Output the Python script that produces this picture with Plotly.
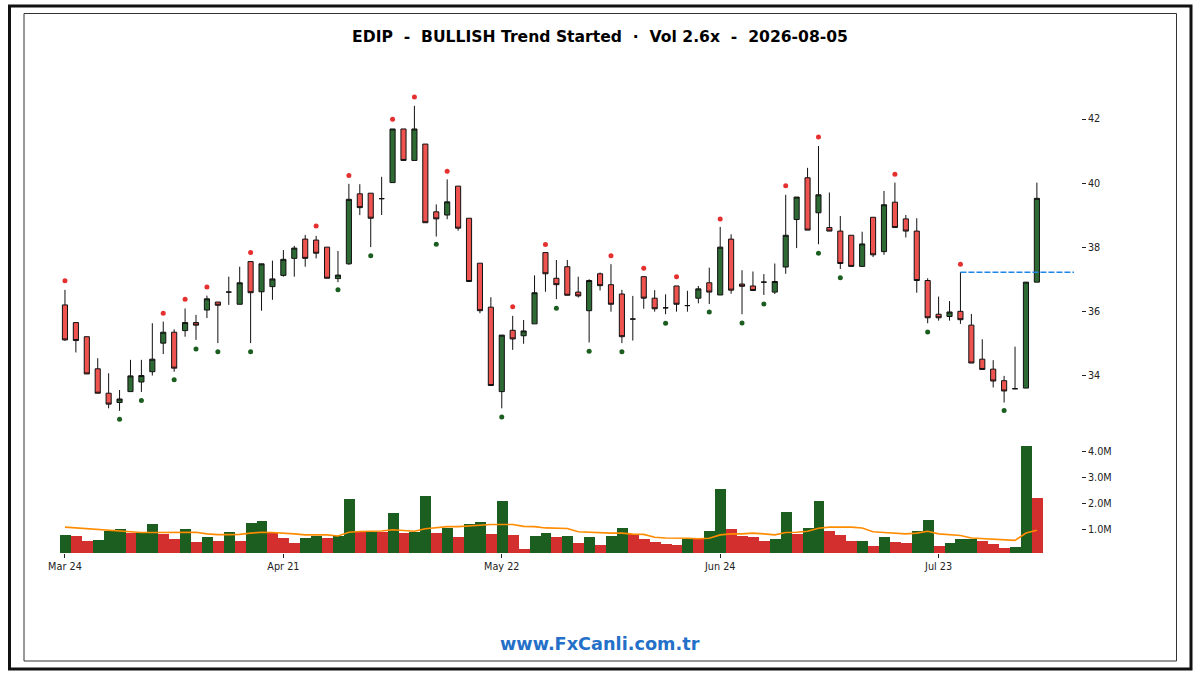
import plotly.graph_objects as go
from plotly.subplots import make_subplots

FRAME_COLOR = "#111111"
GREEN_BODY = "#2e6b34"
RED_BODY = "#ef5350"
GREEN_VOL = "#1b5e20"
RED_VOL = "#d32f2f"

tick_index = [0, 20, 40, 60, 80]
tick_labels = ["Mar 24", "Apr 21", "May 22", "Jun 24", "Jul 23"]
price_ticks = [34, 36, 38, 40, 42]
vol_ticks = [1, 2, 3, 4]
vol_tick_labels = ["1.0M", "2.0M", "3.0M", "4.0M"]

opens = [36.21, 35.66, 35.22, 34.22, 33.46, 33.17, 33.51, 33.81, 34.13, 35.02,
         35.36, 35.41, 35.66, 36.05, 36.30, 36.61, 36.23, 37.56, 36.62, 36.78,
         37.13, 37.66, 38.26, 38.23, 38.01, 37.03, 37.49, 39.67, 39.69, 39.52,
         40.02, 41.69, 40.71, 41.22, 39.11, 39.01, 39.91, 38.91, 37.51, 36.14,
         33.51, 35.42, 35.25, 35.62, 37.84, 37.04, 37.40, 36.61, 36.03, 37.18,
         36.84, 36.55, 35.77, 37.09, 36.42, 36.12, 36.80, 36.19, 36.42, 36.90,
         36.52, 38.26, 36.86, 36.80, 36.92, 36.61, 37.39, 38.87, 40.17, 39.08,
         38.62, 38.51, 38.38, 37.41, 38.94, 37.87, 39.41, 38.89, 38.51, 36.97,
         35.92, 35.85, 36.01, 35.58, 34.52, 34.21, 33.85, 33.60, 33.62, 36.92]
closes = [35.12, 35.10, 34.06, 33.46, 33.12, 33.28, 34.00, 34.01, 34.52, 35.36,
          34.24, 35.66, 35.58, 36.40, 36.20, 36.61, 36.90, 36.59, 37.49, 37.02,
          37.63, 37.98, 37.66, 37.82, 37.04, 37.14, 39.50, 39.24, 38.91, 39.52,
          41.69, 40.71, 41.69, 38.77, 38.89, 39.42, 38.60, 36.94, 36.03, 33.70,
          35.27, 35.15, 35.40, 36.59, 37.18, 36.84, 36.51, 36.49, 36.97, 36.81,
          36.23, 35.22, 35.77, 36.42, 36.09, 36.12, 36.23, 36.19, 36.71, 36.61,
          38.01, 36.67, 36.79, 36.66, 36.92, 36.94, 38.38, 39.57, 38.54, 39.64,
          38.51, 37.50, 37.41, 38.11, 37.77, 39.33, 38.62, 38.51, 36.97, 35.81,
          35.81, 35.99, 35.75, 34.40, 34.20, 33.84, 33.53, 33.60, 36.92, 39.53]
highs = [36.68, 35.66, 35.22, 34.55, 34.08, 33.56, 34.50, 34.50, 35.64, 35.69,
         35.45, 36.10, 35.90, 36.50, 36.30, 37.09, 37.40, 37.56, 37.49, 37.59,
         37.92, 38.05, 38.39, 38.36, 38.01, 37.89, 39.98, 39.97, 39.69, 40.20,
         41.69, 41.69, 42.41, 41.22, 39.34, 40.12, 39.91, 38.91, 37.51, 36.45,
         35.27, 35.87, 35.74, 37.13, 37.84, 37.61, 37.61, 37.09, 37.01, 37.22,
         37.48, 36.68, 36.49, 37.09, 36.67, 36.54, 36.80, 36.65, 36.80, 37.37,
         38.64, 38.41, 37.29, 37.25, 37.17, 37.50, 39.64, 39.57, 40.48, 41.16,
         39.71, 38.98, 38.38, 38.49, 38.94, 39.76, 40.02, 39.01, 38.91, 37.04,
         36.47, 36.33, 37.23, 35.93, 35.14, 34.49, 34.00, 34.91, 36.92, 40.02]
lows = [35.09, 34.73, 34.06, 33.46, 32.99, 32.91, 33.51, 33.50, 34.01, 34.68,
        34.13, 35.22, 35.12, 35.80, 35.02, 36.21, 36.23, 35.02, 36.03, 36.37,
        37.09, 37.09, 37.40, 37.66, 37.04, 36.92, 37.46, 39.01, 38.01, 39.01,
        40.02, 40.71, 40.71, 38.77, 38.34, 38.88, 38.52, 36.94, 35.95, 33.70,
        32.99, 34.81, 35.00, 35.62, 36.62, 36.39, 36.51, 36.44, 35.04, 36.66,
        36.00, 35.02, 35.10, 36.09, 36.00, 35.92, 36.00, 36.00, 36.26, 36.24,
        36.52, 36.56, 35.92, 36.66, 36.52, 36.55, 37.18, 37.98, 38.54, 38.10,
        38.51, 37.33, 37.41, 37.41, 37.70, 37.77, 38.62, 38.31, 36.59, 35.64,
        35.72, 35.72, 35.62, 34.40, 34.20, 33.64, 33.17, 33.60, 33.62, 36.92]

# volume in millions, colour does not always follow the candle in the source
volume = [0.78, 0.74, 0.54, 0.59, 0.93, 1.00, 0.87, 0.85, 1.19, 0.81,
          0.64, 1.00, 0.51, 0.68, 0.54, 0.88, 0.54, 1.25, 1.33, 0.85,
          0.65, 0.46, 0.65, 0.74, 0.66, 0.74, 2.17, 0.88, 0.88, 0.90,
          1.62, 0.85, 0.91, 2.27, 0.85, 1.04, 0.69, 1.22, 1.27, 0.81,
          2.08, 0.78, 0.23, 0.72, 0.87, 0.70, 0.73, 0.46, 0.70, 0.40,
          0.75, 1.04, 0.81, 0.62, 0.51, 0.42, 0.40, 0.63, 0.63, 0.92,
          2.54, 1.00, 0.74, 0.68, 0.56, 0.61, 1.65, 0.81, 1.06, 2.08,
          0.93, 0.78, 0.56, 0.56, 0.37, 0.70, 0.50, 0.45, 0.93, 1.37,
          0.37, 0.46, 0.61, 0.64, 0.54, 0.42, 0.28, 0.32, 4.20, 2.19]
volume_up = [1, 0, 0, 1, 1, 1, 0, 1, 1, 0,
             0, 1, 0, 1, 0, 1, 0, 1, 1, 0,
             0, 0, 1, 1, 0, 1, 1, 0, 1, 0,
             1, 0, 1, 1, 0, 1, 0, 1, 1, 0,
             1, 0, 0, 1, 1, 0, 1, 0, 1, 0,
             1, 1, 0, 0, 0, 0, 0, 1, 0, 1,
             1, 0, 0, 0, 0, 1, 1, 0, 1, 1,
             0, 0, 0, 1, 0, 1, 0, 0, 1, 1,
             0, 1, 1, 1, 0, 0, 0, 1, 1, 0]
volume_ma = [1.08, 1.05, 1.03, 1.00, 0.97, 0.94, 0.91, 0.87, 0.87, 0.87,
             0.87, 0.88, 0.88, 0.82, 0.79, 0.79, 0.80, 0.85, 0.88, 0.87,
             0.85, 0.82, 0.78, 0.78, 0.78, 0.74, 0.88, 0.91, 0.93, 0.93,
             0.98, 0.95, 0.92, 1.02, 1.06, 1.10, 1.10, 1.13, 1.17, 1.18,
             1.18, 1.18, 1.11, 1.10, 1.05, 1.04, 1.03, 0.90, 0.88, 0.85,
             0.85, 0.85, 0.81, 0.80, 0.69, 0.66, 0.66, 0.65, 0.63, 0.65,
             0.78, 0.82, 0.82, 0.85, 0.82, 0.78, 0.87, 0.88, 0.92, 1.04,
             1.08, 1.09, 1.08, 1.05, 0.90, 0.87, 0.85, 0.82, 0.85, 0.92,
             0.82, 0.79, 0.76, 0.66, 0.64, 0.61, 0.58, 0.57, 0.85, 0.96]

top_dot_index = [0, 9, 11, 13, 17, 23, 26, 30, 32, 35, 41, 44, 50, 53, 56, 60, 66, 69, 76, 82]
top_dot_price = [36.96, 35.95, 36.39, 36.77, 37.84, 38.67, 40.24, 41.99, 42.69, 40.37,
                 36.15, 38.09, 37.74, 37.35, 37.09, 38.89, 39.92, 41.44, 40.28, 37.48]
bottom_dot_index = [5, 7, 10, 12, 14, 17, 25, 28, 34, 40, 45, 48, 51, 55, 59, 62, 64, 69, 71, 79, 86]
bottom_dot_price = [32.65, 33.23, 33.88, 34.84, 34.75, 34.75, 36.68, 37.74, 38.10, 32.72, 36.11,
                    34.77, 34.75, 35.64, 35.99, 35.65, 36.24, 37.82, 37.06, 35.37, 32.92]

level_index = [82, 92.4]
level_price = [37.23, 37.23]

W, H = 1200, 675
bar_index = list(range(len(closes)))


def px_x(x):
    return x / W


def px_y(y):
    return 1 - y / H


def frame(x0, y0, x1, y1, width, color):
    return dict(type="rect", xref="paper", yref="paper",
                x0=px_x(x0), x1=px_x(x1), y0=px_y(y1), y1=px_y(y0),
                line=dict(color=color, width=width), layer="above")


fig = make_subplots(rows=2, cols=1, shared_xaxes=True)

fig.add_trace(go.Candlestick(
    x=bar_index, open=opens, high=highs, low=lows, close=closes,
    increasing=dict(line=dict(color="#111111", width=1), fillcolor=GREEN_BODY),
    decreasing=dict(line=dict(color="#111111", width=1), fillcolor=RED_BODY),
), row=1, col=1)
fig.add_trace(go.Scatter(x=top_dot_index, y=top_dot_price, mode="markers",
                         marker=dict(color="#e53030", size=5)), row=1, col=1)
fig.add_trace(go.Scatter(x=bottom_dot_index, y=bottom_dot_price, mode="markers",
                         marker=dict(color=GREEN_VOL, size=5)), row=1, col=1)
fig.add_trace(go.Scatter(x=level_index, y=level_price, mode="lines",
                         line=dict(color="#1e88e5", width=1.5, dash="6px,2px")), row=1, col=1)

fig.add_trace(go.Bar(x=bar_index, y=volume, width=1,
                     marker=dict(color=[GREEN_VOL if up else RED_VOL for up in volume_up], line_width=0)),
              row=2, col=1)
fig.add_trace(go.Scatter(x=bar_index, y=volume_ma, mode="lines",
                         line=dict(color="#ff8c00", width=1.6)), row=2, col=1)

axis_font = dict(family="DejaVu Sans", size=9.7, color="#222222")
x_domain = [px_x(59.5), px_x(1081)]
x_range = [-0.5, 93.04]

fig.update_xaxes(domain=x_domain, range=x_range, showgrid=False, zeroline=False, showline=False,
                 rangeslider_visible=False, tickfont=axis_font, automargin=False)
fig.update_xaxes(showticklabels=False, ticks="", row=1, col=1)
fig.update_xaxes(tickmode="array", tickvals=tick_index, ticktext=tick_labels,
                 ticks="outside", ticklen=4, tickcolor="#222222", row=2, col=1)
fig.update_yaxes(side="right", showgrid=False, zeroline=False, showline=False, tickfont=axis_font,
                 ticks="outside", ticklen=4, tickcolor="#222222", automargin=False)
fig.update_yaxes(domain=[px_y(425), px_y(85)], range=[32.47, 43.06],
                 tickmode="array", tickvals=price_ticks, row=1, col=1)
fig.update_yaxes(domain=[px_y(553), px_y(440)], range=[0.08, 4.45],
                 tickmode="array", tickvals=vol_ticks, ticktext=vol_tick_labels, row=2, col=1)

fig.update_layout(
    width=W, height=H,
    margin=dict(l=0, r=0, t=0, b=0),
    showlegend=False,
    paper_bgcolor="white",
    plot_bgcolor="white",
    boxgap=0.33,
    bargap=0,
    title=dict(
        text="<b>EDIP\u00a0\u00a0-\u00a0\u00a0BULLISH Trend Started\u00a0\u00a0·\u00a0\u00a0Vol 2.6x\u00a0\u00a0-\u00a0\u00a02026-08-05</b>",
        x=0.5, xanchor="center", y=px_y(37), yanchor="middle",
        font=dict(family="DejaVu Sans", size=15.6, color="black"),
    ),
    shapes=[frame(9.5, 6, 1191, 669, 3, FRAME_COLOR), frame(24, 13.5, 1176.5, 661, 1, "#333333")],
    annotations=[dict(
        text="<b>www.FxCanli.com.tr</b>", xref="paper", yref="paper",
        x=0.5, y=px_y(644), xanchor="center", yanchor="middle", showarrow=False,
        font=dict(family="DejaVu Sans", size=17.7, color="#2470c8"),
    )],
)

fig.write_html("out.html", config={"displayModeBar": False},
               post_script="document.body.style.margin='0';")
